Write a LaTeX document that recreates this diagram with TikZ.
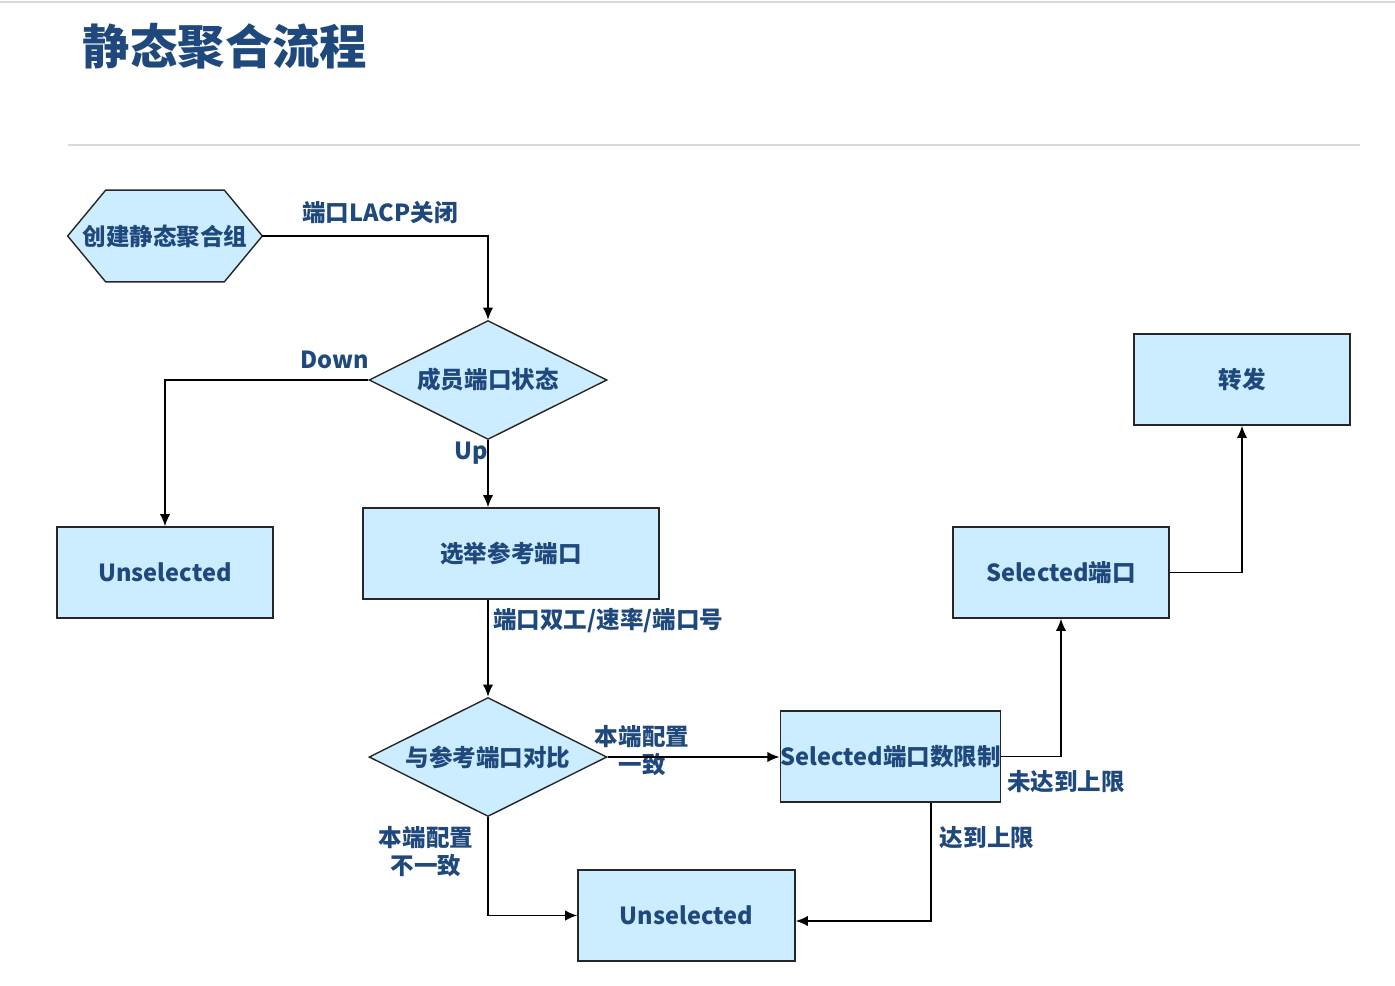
\documentclass[tikz,border=0pt]{standalone}
\usepackage{fontspec}
\setmainfont{Noto Sans CJK SC}
\usetikzlibrary{arrows.meta,shapes.geometric,backgrounds}
\definecolor{txtblue}{RGB}{31,73,125}
\definecolor{boxfill}{RGB}{204,236,255}
\definecolor{rulegray}{RGB}{217,217,217}
\tikzset{
  >={Latex[length=7pt,width=6pt]},
  box/.style={draw=black!85,fill=boxfill,line width=0.8pt,minimum width=4.32cm,minimum height=1.82cm,inner sep=0pt,text=txtblue,font=\bfseries\fontsize{13.4}{16}\selectfont},
  decision/.style={diamond,aspect=2,draw=black!85,fill=boxfill,line width=0.8pt,minimum width=4.76cm,minimum height=2.38cm,inner sep=0pt,text=txtblue,font=\bfseries\fontsize{13.4}{16}\selectfont},
  startbox/.style={minimum width=3.88cm,minimum height=1.82cm,inner sep=0pt,text=txtblue,font=\bfseries\fontsize{13.4}{16}\selectfont},
  hexline/.style={draw=black!85,fill=boxfill,line width=0.8pt},
  lbl/.style={text=txtblue,inner sep=0pt,align=center,font=\bfseries\fontsize{13.4}{16}\selectfont},
  flow/.style={->,line width=1pt},
}
\begin{document}
\begin{tikzpicture}[x=0.02cm,y=-0.02cm]
    \useasboundingbox (0,0) rectangle (1395,986);
    \draw [rulegray,line width=1pt] (0,2) -- (1395,2);
    \draw [rulegray,line width=1.5pt] (68,145) -- (1360,145);
    \node (title) at (225,46) [text=txtblue,font=\bfseries\fontsize{27}{32}\selectfont] {静态聚合流程};

    \node (create) at (165,236) [startbox] {创建静态聚合组};
    \begin{scope}[on background layer]
      \draw [hexline] (create.west) -- ([xshift=0.76cm]create.north west) -- ([xshift=-0.76cm]create.north east)
        -- (create.east) -- ([xshift=-0.76cm]create.south east) -- ([xshift=0.76cm]create.south west) -- cycle;
    \end{scope}
    \node (state) at (488,380) [decision] {成员端口状态};
    \node (unsel1) at (165,572.5) [box] {Unselected};
    \node (ref) at (511,553.5) [box,minimum width=5.92cm] {选举参考端口};
    \node (cmp) at (488,757) [decision] {与参考端口对比};
    \node (limit) at (890.5,756.5) [box,minimum width=4.34cm] {Selected端口数限制};
    \node (unsel2) at (686.5,915.5) [box,minimum width=4.34cm] {Unselected};
    \node (selp) at (1061,572.5) [box] {Selected端口};
    \node (fwd) at (1242,379.5) [box] {转发};

    \node (lacp) at (380,213) [lbl] {端口LACP关闭};
    \node (down) at (335,360) [lbl] {Down};
    \node (up) at (471,453) [lbl] {Up};
    \node (attr) at (493,621) [lbl,anchor=west] {端口双工/速率/端口号};
    \node (same) at (642,751) [lbl] {本端配置\\一致};
    \node (diff) at (426,852) [lbl] {本端配置\\不一致};
    \node (full) at (987,838) [lbl] {达到上限};
    \node (notfull) at (1066,782) [lbl] {未达到上限};

    \draw [flow] (create.east) -| (state.north);
    \draw [flow] (state.west) -| (unsel1.north);
    \draw [flow] (state.south) -- (state.south |- ref.north);
    \draw [flow] (ref.south -| cmp.north) -- (cmp.north);
    \draw [flow] (cmp.east) -- (limit.west |- cmp.east);
    \draw [flow] (cmp.south) |- (unsel2.west);
    \draw [flow] ([xshift=0.81cm]limit.south) |- ([yshift=-0.11cm]unsel2.east);
    \draw [flow] (limit.east) -| (selp.south);
    \draw [flow] (selp.east) -| (fwd.south);
\end{tikzpicture}
\end{document}
